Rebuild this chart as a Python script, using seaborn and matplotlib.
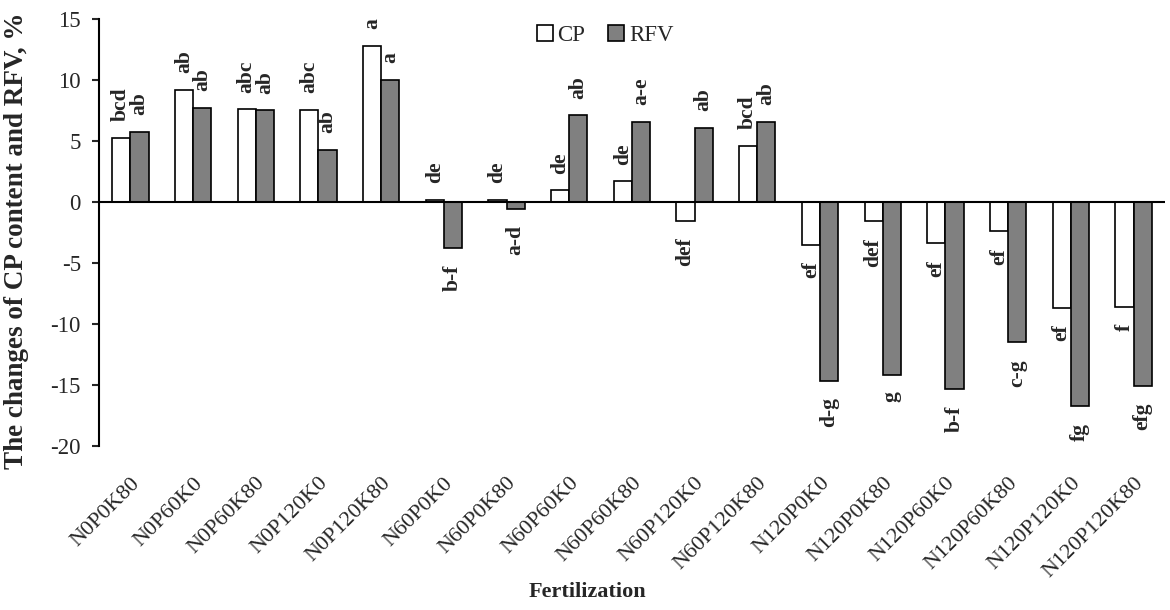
import matplotlib
matplotlib.use("Agg")
import matplotlib.pyplot as plt
import seaborn as sns
import pandas as pd
from matplotlib.patches import Patch

# ? values
treatments = ["N0P0K80", "N0P60K0", "N0P60K80", "N0P120K0", "N0P120K80",
              "N60P0K0", "N60P0K80", "N60P60K0", "N60P60K80", "N60P120K0",
              "N60P120K80", "N120P0K0", "N120P0K80", "N120P60K0", "N120P60K80",
              "N120P120K0", "N120P120K80"]
cp = [5.25, 9.2, 7.6, 7.55, 12.8, 0.2, 0.2, 0.95, 1.7, -1.55, 4.6,
      -3.5, -1.6, -3.4, -2.4, -8.7, -8.6]
rfv = [5.75, 7.7, 7.5, 4.25, 10.0, -3.8, -0.55, 7.1, 6.55, 6.05, 6.55,
       -14.65, -14.15, -15.3, -11.5, -16.75, -15.1]
cp_letters = ["bcd", "ab", "abc", "abc", "a", "de", "de", "de", "de", "def",
              "bcd", "ef", "def", "ef", "ef", "ef", "f"]
rfv_letters = ["ab", "ab", "ab", "ab", "a", "b-f", "a-d", "ab", "a-e", "ab",
               "ab", "d-g", "g", "b-f", "c-g", "fg", "efg"]

df = pd.DataFrame({
    "treatment": treatments * 2,
    "value": cp + rfv,
    "trait": ["CP"] * len(cp) + ["RFV"] * len(rfv),
})

sns.set_style("white")
plt.rcParams["font.family"] = ["Liberation Serif", "DejaVu Serif"]
plt.rcParams["axes.unicode_minus"] = False

colors = {"CP": "white", "RFV": "#808080"}

fig = plt.figure(figsize=(11.7, 6.1), dpi=100)
ax = fig.add_axes([0.0846, 0.2689, 0.911, 0.70])

sns.barplot(data=df, x="treatment", y="value", hue="trait", palette=colors,
            saturation=1, width=0.58, gap=0, edgecolor="black", linewidth=1.2,
            legend=False, ax=ax)

# * significance letters above / below each bar
for bars, letters in zip(ax.containers, [cp_letters, rfv_letters]):
    for bar, txt in zip(bars, letters):
        h = bar.get_height()
        x = bar.get_x() + bar.get_width() / 2
        off = 12 if h >= 0 else -12
        ax.annotate(txt, xy=(x, h), xytext=(0, off), textcoords="offset points",
                    rotation=90, ha="center", va="bottom" if h >= 0 else "top",
                    fontsize=15.5, fontweight="bold")

ax.axhline(0, color="black", lw=1.5, zorder=5)
ax.set_ylim(-20, 15)
ax.set_xlim(-0.5, len(treatments) - 0.5)
ax.set_yticks(range(-20, 16, 5))
ax.set_xlabel("")
ax.set_ylabel("")

for side in ["top", "right", "bottom"]:
    ax.spines[side].set_visible(False)
ax.spines["left"].set_color("black")
ax.spines["left"].set_linewidth(1.5)

ax.tick_params(axis="y", direction="out", length=5, width=1.5, pad=8,
               labelsize=16.5, left=True)
ax.tick_params(axis="x", length=0, pad=20, labelsize=16)
plt.setp(ax.get_xticklabels(), rotation=45, ha="right", rotation_mode="anchor")

handles = [Patch(facecolor=colors[k], edgecolor="black", linewidth=1.2, label=k)
           for k in ["CP", "RFV"]]
ax.legend(handles=handles, loc="upper center", bbox_to_anchor=(0.475, 1.035),
          ncol=2, frameon=False, fontsize=16.5, handlelength=0.7,
          handleheight=0.7, handletextpad=0.2, columnspacing=1.0)

fig.text(587 / 1170, 1 - 592 / 610, "Fertilization", ha="center", va="center",
         fontsize=16, fontweight="bold")
fig.text(17 / 1170, 1 - 241 / 610, "The changes of CP content and RFV, %",
         rotation=90, ha="center", va="center", fontsize=19.5, fontweight="bold")

fig.savefig("out.png", dpi=100)
